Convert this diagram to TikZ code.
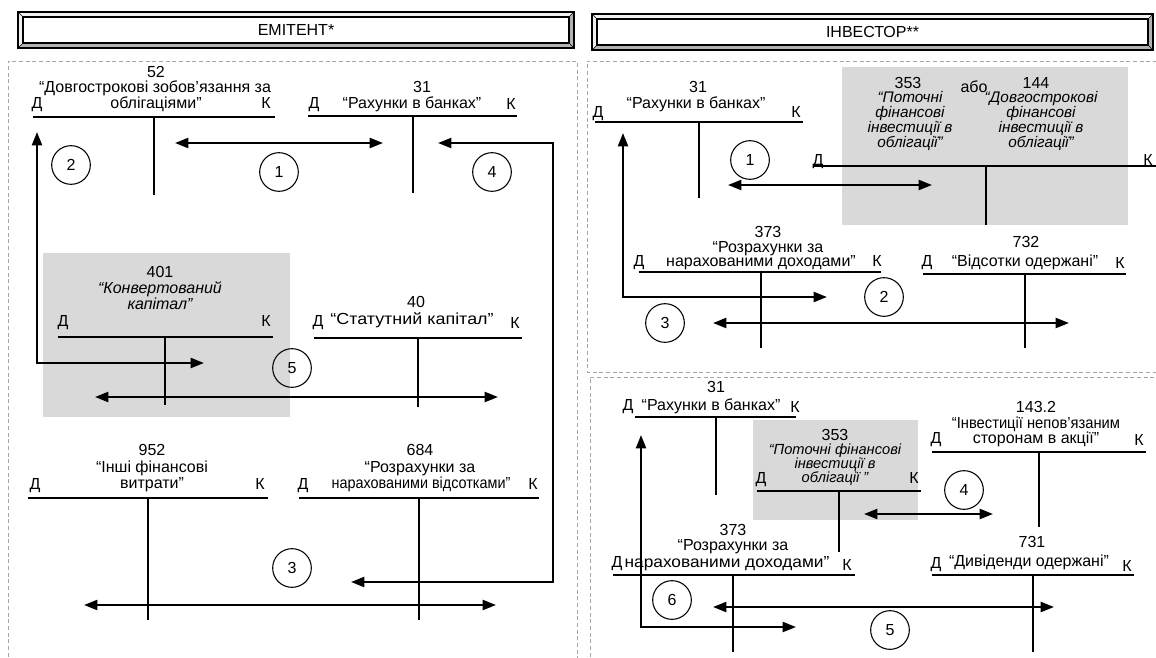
\documentclass[tikz,border=0pt]{standalone}
\usepackage{fontspec}
\setmainfont{Liberation Sans}
\usetikzlibrary{arrows.meta}

\tikzset{
  lbl/.style={inner sep=0pt,text height=9pt,text depth=1.5pt,font=\fontsize{12}{14}\selectfont},
  ilbl/.style={lbl,font=\fontsize{12}{14}\selectfont\itshape},
  slbl/.style={inner sep=0pt,text height=7.5pt,text depth=1.5pt,font=\fontsize{11}{13}\selectfont\itshape},
  acct/.style={line width=1pt},
  flow/.style={line width=1.6pt,{Triangle[length=10pt,width=7.5pt]}-{Triangle[length=10pt,width=7.5pt]}},
  opnum/.style={draw,circle,minimum size=29pt,inner sep=0pt,line width=0.8pt,font=\fontsize{12}{14}\selectfont},
  panel/.style={gray!70,line width=0.5pt,dash pattern=on 3pt off 2pt},
  shade/.style={fill=black!15}
}

\begin{document}
\begin{tikzpicture}[x=0.75pt,y=-0.75pt]
  \clip (0,0) rectangle (1156,657);

  % headers
  \foreach \xa/\ya/\xb/\yb/\hname/\k in {18/12/574/48/ЕМІТЕНТ*/1, 592/14/1153/50/ІНВЕСТОР**/2}
    {
    \fill[gray!60] (\xa,\ya) rectangle (\xb,\yb);
    \fill[gray!12] (\xa,\ya) -- (\xb,\ya) -- (\xb-5,\ya+5) -- (\xa+5,\ya+5) -- (\xa+5,\yb-5) -- (\xa,\yb) -- cycle;
    \draw[fill=white,line width=0.8pt] (\xa+5,\ya+5) rectangle (\xb-5,\yb-5);
    \draw[line width=0.5pt] (\xa,\ya) -- (\xa+5,\ya+5) (\xb,\ya) -- (\xb-5,\ya+5)
        (\xa,\yb) -- (\xa+5,\yb-5) (\xb,\yb) -- (\xb-5,\yb-5);
    \draw[line width=1.2pt] (\xa,\ya) rectangle (\xb,\yb);
    \node[lbl] (head\k) at ({(\xa+\xb)/2},{(\ya+\yb)/2}) {\hname};
    }

  % panels
  \draw[panel] (8,670) -- (8,61) -- (577,61) -- (577,670);
  \draw[panel] (1170,372) -- (587,372) -- (587,61) -- (1170,61);
  \draw[panel] (590,670) -- (590,377) -- (1170,377);

  % ---------------- emitent ----------------
  \fill[shade] (43,253) rectangle (290,417);

  \node[lbl] (e52num) at (156,72) {52};
  \node[lbl] (e52t1) at (155,87) {“Довгострокові зобов’язання за};
  \node[lbl] (e52t2) at (156,103) {облігаціями”};
  \node[lbl] (e52d) at (37,103) {Д};
  \node[lbl] (e52k) at (266,103) {К};
  \draw[acct] (33,117) -- (275,117) (154,117) -- (154,195);

  \node[lbl] (e31num) at (422,87) {31};
  \node[lbl] (e31t) at (412,103) {“Рахунки в банках”};
  \node[lbl] (e31d) at (314,103) {Д};
  \node[lbl] (e31k) at (511,104) {К};
  \draw[acct] (308,116) -- (517,116) (413,116) -- (413,193);

  \node[lbl] (e401num) at (160,272) {401};
  \node[ilbl] (e401t1) at (160,288) {“Конвертований};
  \node[ilbl] (e401t2) at (160,304) {капітал”};
  \node[lbl] (e401d) at (63,321) {Д};
  \node[lbl] (e401k) at (266,321) {К};
  \draw[acct] (58,337) -- (273,337) (165,337) -- (165,405);

  \node[lbl] (e40num) at (416,302) {40};
  \node[lbl] (e40t) at (412,319) {\scalebox{1.12}[1]{“Статутний капітал”}};
  \node[lbl] (e40d) at (318,321) {Д};
  \node[lbl] (e40k) at (515,323) {К};
  \draw[acct] (314,338) -- (522,338) (418,338) -- (418,407);

  \node[lbl] (e952num) at (152,450) {952};
  \node[lbl] (e952t1) at (152,467) {“Інші фінансові};
  \node[lbl] (e952t2) at (152,483) {витрати”};
  \node[lbl] (e952d) at (35,484) {Д};
  \node[lbl] (e952k) at (260,484) {К};
  \draw[acct] (28,498) -- (268,498) (148,498) -- (148,620);

  \node[lbl] (e684num) at (420,450) {684};
  \node[lbl] (e684t1) at (420,467) {“Розрахунки за};
  \node[lbl] (e684t2) at (421,483) {\scalebox{0.9}[1]{нарахованими відсотками”}};
  \node[lbl] (e684d) at (303,484) {Д};
  \node[lbl] (e684k) at (533,484) {К};
  \draw[acct] (299,498) -- (539,498) (419,498) -- (419,620);

  \coordinate (ea1a) at (175,143);
  \coordinate (ea1b) at (383,143);
  \coordinate (ea2a) at (37,132);
  \coordinate (ea2c) at (37,363);
  \coordinate (ea2b) at (204,363);
  \coordinate (ea3a) at (84,605);
  \coordinate (ea3b) at (496,605);
  \coordinate (ea4a) at (438,143);
  \coordinate (ea4c) at (553,143);
  \coordinate (ea4d) at (553,582);
  \coordinate (ea4b) at (351,582);
  \coordinate (ea5a) at (95,397);
  \coordinate (ea5b) at (498,397);

  \draw[flow] (ea1a) -- (ea1b);
  \draw[flow] (ea2a) -- (ea2c) -- (ea2b);
  \draw[flow] (ea3a) -- (ea3b);
  \draw[flow] (ea4a) -- (ea4c) -- (ea4d) -- (ea4b);
  \draw[flow] (ea5a) -- (ea5b);

  \node[opnum] (eop1) at (279,172) {1};
  \node[opnum] (eop2) at (71,165) {2};
  \node[opnum] (eop3) at (292,568) {3};
  \node[opnum] (eop4) at (492,172) {4};
  \node[opnum] (eop5) at (292,368) {5};

  % ---------------- investor, bonds ----------------
  \fill[shade] (842,67) rectangle (1128,225);

  \node[lbl] (i31num) at (698,87) {31};
  \node[lbl] (i31t) at (696,103) {“Рахунки в банках”};
  \node[lbl] (i31d) at (598,112) {Д};
  \node[lbl] (i31k) at (796,112) {К};
  \draw[acct] (595,122) -- (803,122) (699,122) -- (699,198);

  \node[lbl] (i353num) at (908,83) {353};
  \node[align=center,inner sep=0pt,font=\fontsize{11.5}{11.2}\selectfont\itshape] (i353t)
      at (910,121) {“Поточні\\фінансові\\інвестиції в\\облігації”};
  \node[lbl] (ior) at (974,87) {або};
  \node[lbl] (i144num) at (1036,83) {144};
  \node[align=center,inner sep=0pt,font=\fontsize{11.5}{11.2}\selectfont\itshape] (i144t)
      at (1041,121) {“Довгострокові\\фінансові\\інвестиції в\\облігації”};
  \node[lbl] (ibd) at (818,160) {Д};
  \node[lbl] (ibk) at (1148,160) {К};
  \draw[acct] (814,166) -- (1160,166) (986,166) -- (986,225);

  \node[lbl] (i373num) at (768,232) {373};
  \node[lbl] (i373t1) at (768,247) {“Розрахунки за};
  \node[lbl] (i373t2) at (761,261) {нарахованими доходами”};
  \node[lbl] (i373d) at (639,261) {Д};
  \node[lbl] (i373k) at (877,261) {К};
  \draw[acct] (639,272) -- (881,272) (761,272) -- (761,348);

  \node[lbl] (i732num) at (1026,242) {732};
  \node[lbl] (i732t) at (1025,261) {“Відсотки одержані”};
  \node[lbl] (i732d) at (927,261) {Д};
  \node[lbl] (i732k) at (1120,263) {К};
  \draw[acct] (923,274) -- (1126,274) (1025,274) -- (1025,348);

  \coordinate (ia1a) at (728,185);
  \coordinate (ia1b) at (932,185);
  \coordinate (ia2a) at (623,133);
  \coordinate (ia2c) at (623,297);
  \coordinate (ia2b) at (827,297);
  \coordinate (ia3a) at (713,323);
  \coordinate (ia3b) at (1069,323);

  \draw[flow] (ia1a) -- (ia1b);
  \draw[flow] (ia2a) -- (ia2c) -- (ia2b);
  \draw[flow] (ia3a) -- (ia3b);

  \node[opnum] (iop1) at (750,160) {1};
  \node[opnum] (iop2) at (884,297) {2};
  \node[opnum] (iop3) at (665,323) {3};

  % ---------------- investor, shares ----------------
  \fill[shade] (753,420) rectangle (918,520);

  \node[lbl] (j31num) at (716,387) {31};
  \node[lbl] (j31t) at (711,405) {“Рахунки в банках”};
  \node[lbl] (j31d) at (628,405) {Д};
  \node[lbl] (j31k) at (795,407) {К};
  \draw[acct] (635,417) -- (796,417) (716,417) -- (716,495);

  \node[lbl] (j353num) at (835,435) {353};
  \node[slbl] (j353t1) at (835,450) {“Поточні фінансові};
  \node[slbl] (j353t2) at (835,464) {інвестиції в};
  \node[slbl] (j353t3) at (835,478) {облігації ”};
  \node[lbl] (j353d) at (761,478) {Д};
  \node[lbl] (j353k) at (914,478) {К};
  \draw[acct] (757,491) -- (921,491) (839,491) -- (839,552);

  \node[lbl] (j143num) at (1036,407) {143.2};
  \node[lbl] (j143t1) at (1036,423) {\scalebox{0.92}[1]{“Інвестиції непов'язаним}};
  \node[lbl] (j143t2) at (1036,438) {сторонам в акції”};
  \node[lbl] (j143d) at (936,438) {Д};
  \node[lbl] (j143k) at (1139,440) {К};
  \draw[acct] (932,452) -- (1146,452) (1039,452) -- (1039,527);

  \node[lbl] (j373num) at (733,530) {373};
  \node[lbl] (j373t1) at (733,545) {“Розрахунки за};
  \node[lbl] (j373t2) at (727,562) {\scalebox{1.08}[1]{нарахованими доходами”}};
  \node[lbl] (j373d) at (617,562) {Д};
  \node[lbl] (j373k) at (847,565) {К};
  \draw[acct] (613,575) -- (855,575) (733,575) -- (733,652);

  \node[lbl] (j731num) at (1032,542) {731};
  \node[lbl] (j731t) at (1029,561) {“Дивіденди одержані”};
  \node[lbl] (j731d) at (936,563) {Д};
  \node[lbl] (j731k) at (1127,566) {К};
  \draw[acct] (932,575) -- (1134,575) (1033,575) -- (1033,652);

  \coordinate (ja4a) at (864,514);
  \coordinate (ja4b) at (993,514);
  \coordinate (ja5a) at (713,607);
  \coordinate (ja5b) at (1054,607);
  \coordinate (ja6a) at (641,435);
  \coordinate (ja6c) at (641,627);
  \coordinate (ja6b) at (796,627);

  \draw[flow] (ja4a) -- (ja4b);
  \draw[flow] (ja5a) -- (ja5b);
  \draw[flow] (ja6a) -- (ja6c) -- (ja6b);

  \node[opnum] (jop4) at (964,490) {4};
  \node[opnum] (jop5) at (890,630) {5};
  \node[opnum] (jop6) at (672,600) {6};
\end{tikzpicture}
\end{document}
